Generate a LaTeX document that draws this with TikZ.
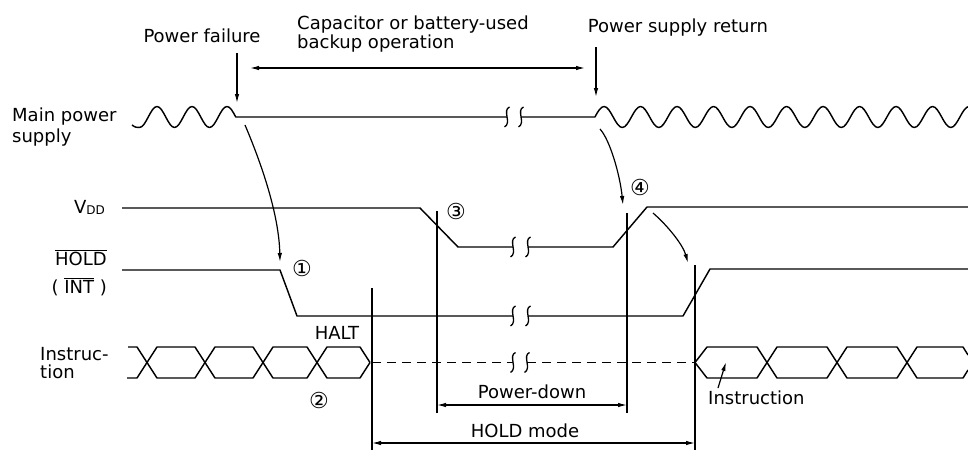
\documentclass[tikz,border=0pt]{standalone}
\usepackage{fontspec}
\setmainfont{DejaVu Sans}
\usetikzlibrary{arrows.meta}
\newcommand\ovl[1]{$\overline{\hbox{#1}}$}
\begin{document}
\begin{tikzpicture}[x=1pt,y=-1pt,
  sig/.style={line width=1.45pt,line join=round},
  lbl/.style={inner sep=0pt,font=\fontsize{18}{18}\selectfont},
  num/.style={inner sep=0pt,font=\fontsize{22}{22}\selectfont},
  arr/.style={line width=1.2pt,-{Latex[length=9pt,width=4.5pt]}},
  darr/.style={line width=1.2pt,{Latex[length=9pt,width=4.5pt]}-{Latex[length=9pt,width=4.5pt]}},
  vline/.style={line width=1.3pt},
  brk/.pic={\draw[line width=1.3pt] (2.5,-10) .. controls (-5,-7) and (5,6) .. (-2.5,10);}
]
\useasboundingbox (0,0) rectangle (968,450);

% ---- main power supply ----
\coordinate (mpS) at (132,125);
\draw[sig] (mpS) .. controls (135,127.5) and (137,127.5) .. (139.5,127.5)
  foreach \k in {0,1,2} {
    cos ({139.5+35*\k+8.75},117) sin ({139.5+35*\k+17.5},106.5)
    cos ({139.5+35*\k+26.25},117)
    \ifnum\k<2 sin ({139.5+35*\k+35},127.5)\fi
  } -- (507,117);
\pic at (507,117) {brk};
\pic at (521,117) {brk};
\draw[sig] (521,117) -- (594.9,117)
  foreach \k in {0,...,10} {
    sin ({594.9+36.5*\k+9.125},106.5) cos ({594.9+36.5*\k+18.25},117)
    sin ({594.9+36.5*\k+27.375},127.5) cos ({594.9+36.5*\k+36.5},117)
  };

% ---- VDD ----
\draw[sig] (122,208) -- (420,208) -- (458,247) -- (513,247);
\pic at (513,247) {brk};
\pic at (528,247) {brk};
\draw[sig] (528,247) -- (613,247) -- (647,207) -- (968,207);

% ---- HOLD ----
\draw[sig] (122,270) -- (280,270) -- (297,316) -- (513,316);
\pic at (513,316) {brk};
\pic at (528,316) {brk};
\draw[sig] (528,316) -- (683,316) -- (710,269) -- (968,269);

% ---- Instruction ----
\draw[sig] (128,347) -- (137,347) -- (157,378) -- (195,378) -- (215,347) -- (253,347) -- (273,378) -- (307,378) -- (327,347) -- (360,347) -- (370,362.5);
\draw[sig] (127,378) -- (137,378) -- (157,347) -- (195,347) -- (215,378) -- (253,378) -- (273,347) -- (307,347) -- (327,378) -- (360,378) -- (370,362.5);
\draw[sig,dash pattern=on 9pt off 6pt] (372,362.5) -- (513,362.5);
\pic at (513,362.5) {brk};
\pic at (527,362.5) {brk};
\draw[sig,dash pattern=on 9pt off 6pt] (527,362.5) -- (695,362.5);
\draw[sig] (695,362.5) -- (707,347) -- (757,347) -- (777,378) -- (827,378) -- (847,347) -- (897,347) -- (917,378) -- (963,378) -- (968,370);
\draw[sig] (695,362.5) -- (707,378) -- (757,378) -- (777,347) -- (827,347) -- (847,378) -- (897,378) -- (917,347) -- (963,347) -- (968,355);

% ---- vertical reference lines ----
\coordinate (v1t) at (372,288); \coordinate (v1b) at (372,450);
\coordinate (v2t) at (437,211); \coordinate (v2b) at (437,413);
\coordinate (v3t) at (627,213); \coordinate (v3b) at (627,413);
\coordinate (v4t) at (695,265); \coordinate (v4b) at (695,450);
\draw[vline] (v1t) -- (v1b);
\draw[vline] (v2t) -- (v2b);
\draw[vline] (v3t) -- (v3b);
\draw[vline] (v4t) -- (v4b);

% ---- dimension arrows ----
\coordinate (pdL) at (437,405); \coordinate (pdR) at (627,405);
\draw[darr] (pdL) -- (pdR);
\coordinate (hmL) at (372,443); \coordinate (hmR) at (695,443);
\draw[darr] (hmL) -- (hmR);
\coordinate (bkL) at (250,68); \coordinate (bkR) at (585,68);
\draw[darr] (bkL) -- (bkR);

% ---- event arrows ----
\coordinate (pfA) at (237,53); \coordinate (pfB) at (237,103);
\draw[arr] (pfA) -- (pfB);
\coordinate (rtA) at (596,47); \coordinate (rtB) at (596,97);
\draw[arr] (rtA) -- (rtB);
\coordinate (c1A) at (245,125); \coordinate (c1B) at (280,262);
\draw[arr] (c1A) .. controls (262,165) and (279,215) .. (c1B);
\coordinate (c4A) at (600,129); \coordinate (c4B) at (623,205);
\draw[arr] (c4A) .. controls (610,140) and (620,175) .. (c4B);
\coordinate (c5A) at (653,213); \coordinate (c5B) at (688,263);
\draw[arr] (c5A) .. controls (668,226) and (683,245) .. (c5B);
\coordinate (inA) at (718,388); \coordinate (inB) at (726,362);
\draw[arr] (inA) -- (inB);

% ---- labels ----
\node[lbl,anchor=base] (tpf) at (202,42) {Power failure};
\node[lbl,anchor=base west] (tcap1) at (297,29) {Capacitor or battery-used};
\node[lbl,anchor=base west] (tcap2) at (297,48) {backup operation};
\node[lbl,anchor=base] (tret) at (678,32) {Power supply return};
\node[lbl,anchor=base west] (tmain1) at (12,121) {Main power};
\node[lbl,anchor=base west] (tmain2) at (12,142) {supply};
\node[lbl,anchor=base east] (tvdd) at (105,213) {V\raisebox{-1pt}{\fontsize{12}{12}\selectfont DD}};
\node[lbl,anchor=base east] (thold) at (107,265) {\ovl{HOLD}};
\node[lbl,anchor=base east] (tint) at (107,293) {( \ovl{INT} )};
\node[lbl,anchor=base west] (tins1) at (40,360) {Instruc-};
\node[lbl,anchor=base west] (tins2) at (40,378.5) {tion};
\node[lbl,anchor=base] (thalt) at (337,339) {HALT};
\node[lbl,anchor=base] (tpd) at (532,398) {Power-down};
\node[lbl,anchor=base] (thm) at (525,437) {HOLD mode};
\node[lbl,anchor=base west] (tinstr) at (708,404) {Instruction};
\node[num] (n1) at (302,268) {①};
\node[num] (n2) at (319,400) {②};
\node[num] (n3) at (456,211) {③};
\node[num] (n4) at (640,187) {④};
\end{tikzpicture}
\end{document}
